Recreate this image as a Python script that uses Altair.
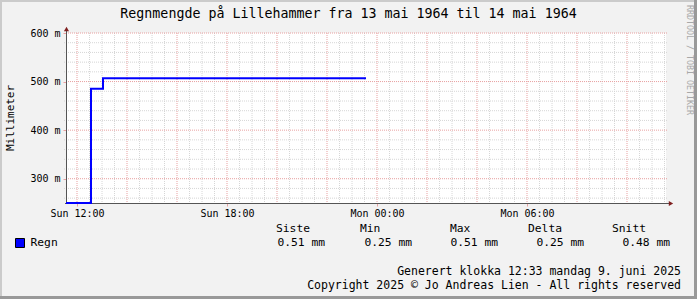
import altair as alt
import numpy as np
import pandas as pd

# ---------------- data ----------------
hours = [-0.44, 0.56, 1.04, 11.56]          # hours relative to Sun 12:00
regn = [250, 485, 507, 507]                 # thousandths of a millimetre ("m")

title_text = "Regnmengde på Lillehammer fra 13 mai 1964 til 14 mai 1964"
watermark = "RRDTOOL / TOBI OETIKER"
y_title = "Millimeter"
x_tick_hours = [0, 6, 12, 18]
x_tick_labels = ["Sun 12:00", "Sun 18:00", "Mon 00:00", "Mon 06:00"]
y_ticks = [300, 400, 500, 600]
series_name = "Regn"
legend_headers = ["Siste", "Min", "Max", "Delta", "Snitt"]
legend_values = ["0.51 mm", "0.25 mm", "0.51 mm", "0.25 mm", "0.48 mm"]
footer_lines = ["Generert klokka 12:33 mandag 9. juni 2025",
                "Copyright 2025 © Jo Andreas Lien - All rights reserved"]

# ---------------- layout ----------------
L, T, W, H = 66, 33, 600, 170
FULL_W, FULL_H = 697, 299
FONT = "DejaVu Sans Mono"
x_domain = [-0.44, 23.56]
y_domain = [250, 600]
header_left = [276, 360, 450, 528, 612]
value_right = [325, 412, 498, 584, 670]

xs = alt.Scale(domain=x_domain, nice=False, zero=False)
ys = alt.Scale(domain=y_domain, nice=False, zero=False)

one = alt.Data(values=[{"a": 1}])

minor_x = [h for h in np.arange(0, x_domain[1], 0.5) if h % 2 != 0]
major_x = list(range(0, 24, 2))
minor_y = [v for v in range(260, 600, 20) if v % 100 != 0]
major_y = y_ticks

MINOR_C = "#D6D6D6"
MAJOR_C = "#E8A0A0"

label_expr = " : ".join(
    f"datum.value == {h} ? '{lab}'" for h, lab in zip(x_tick_hours, x_tick_labels)) + " : ''"

x_axis = alt.Axis(
    values=x_tick_hours, labelExpr=label_expr, title=None, grid=False, domain=False,
    tickSize=3, tickColor=MAJOR_C, labelFont=FONT, labelFontSize=10,
    labelColor="#000000", labelPadding=2, labelFlush=False)
y_axis = alt.Axis(
    values=y_ticks, labelExpr="datum.value + ' m'", title=None, grid=False,
    domain=False, tickSize=3, tickColor=MAJOR_C, labelFont=FONT, labelFontSize=10,
    labelColor="#000000", labelPadding=3)

vminor = alt.Chart(pd.DataFrame({"h": minor_x})).mark_rule(
    color=MINOR_C, strokeDash=[1, 1], strokeWidth=1).encode(
    x=alt.X("h:Q", scale=xs, axis=x_axis), y=alt.value(0), y2=alt.value(H + 2))
vmajor = alt.Chart(pd.DataFrame({"h": major_x})).mark_rule(
    color=MAJOR_C, strokeDash=[1, 1], strokeWidth=1).encode(
    x=alt.X("h:Q", scale=xs, axis=x_axis), y=alt.value(0), y2=alt.value(H))
hminor = alt.Chart(pd.DataFrame({"v": minor_y})).mark_rule(
    color=MINOR_C, strokeDash=[1, 1], strokeWidth=1).encode(
    y=alt.Y("v:Q", scale=ys, axis=y_axis), x=alt.value(-2), x2=alt.value(W + 2))
hmajor = alt.Chart(pd.DataFrame({"v": major_y})).mark_rule(
    color=MAJOR_C, strokeDash=[1, 1], strokeWidth=1).encode(
    y=alt.Y("v:Q", scale=ys, axis=y_axis), x=alt.value(0), x2=alt.value(W + 2))

line = alt.Chart(pd.DataFrame({"h": hours, "v": regn})).mark_line(
    interpolate="step-after", color="#0000FF", strokeWidth=2, clip=False).encode(
    x=alt.X("h:Q", scale=xs, axis=x_axis),
    y=alt.Y("v:Q", scale=ys, axis=y_axis),
)

AXIS_C = "#555555"
x_axis_line = alt.Chart(one).mark_rule(color=AXIS_C, strokeWidth=1).encode(
    x=alt.value(-1), x2=alt.value(W + 4), y=alt.value(H + 0.5))
y_axis_line = alt.Chart(one).mark_rule(color=AXIS_C, strokeWidth=1).encode(
    x=alt.value(0.5), y=alt.value(-3), y2=alt.value(H + 1))
arrow_up = alt.Chart(one).mark_point(shape="triangle-up", filled=True, size=26,
                                     color="#7F1F1F", opacity=1).encode(
    x=alt.value(0.5), y=alt.value(-4))
arrow_right = alt.Chart(one).mark_point(shape="triangle-right", filled=True, size=26,
                                        color="#7F1F1F", opacity=1).encode(
    x=alt.value(W + 5), y=alt.value(H + 0.5))


def txt(text, x, y, size, align="left", angle=0, color="#000000"):
    props = dict(font=FONT, fontSize=size, align=align, baseline="middle", color=color)
    if angle:
        props["angle"] = angle
    return alt.Chart(one).mark_text(**props).encode(
        text=alt.value(text), x=alt.value(x - L), y=alt.value(y - T))


texts = [
    txt(title_text, 348.5, 14, 13.3, align="center"),
    txt(watermark, 688.5, 5, 8.3, align="left", angle=90, color="#A8A8A8"),
    txt(y_title, 11, 118, 11, align="center", angle=270),
    txt(series_name, 30.5, 243, 11.3),
    txt(footer_lines[0], 681, 272, 11.5, align="right"),
    txt(footer_lines[1], 681, 285.5, 11.5, align="right"),
]

leg = pd.DataFrame({"head": legend_headers, "val": legend_values,
                    "hx": [x - L for x in header_left], "vx": [x - L for x in value_right]})
heads = alt.Chart(leg).mark_text(font=FONT, fontSize=11.3, align="left", baseline="middle",
                                 color="#000000").encode(
    text="head:N", x=alt.X("hx:Q", scale=None), y=alt.value(229 - T))
vals = alt.Chart(leg).mark_text(font=FONT, fontSize=11.3, align="right", baseline="middle",
                                color="#000000").encode(
    text="val:N", x=alt.X("vx:Q", scale=None), y=alt.value(243 - T))

swatch = alt.Chart(one).mark_rect(fill="#0000FF", stroke="#000000", strokeWidth=1).encode(
    x=alt.value(15.5 - L), x2=alt.value(24.5 - L), y=alt.value(238.5 - T), y2=alt.value(247.5 - T))


def frame(x0, x1, y0, y1, c):
    return alt.Chart(one).mark_rect(fill=c, strokeWidth=0).encode(
        x=alt.value(x0 - L), x2=alt.value(x1 - L), y=alt.value(y0 - T), y2=alt.value(y1 - T))


frames = [
    frame(0, FULL_W, 0, 2, "#CBCBCB"),
    frame(0, 2, 0, FULL_H, "#CBCBCB"),
    frame(694, FULL_W, 0, FULL_H, "#999999"),
    frame(0, FULL_W, 296, FULL_H, "#999999"),
]

chart = alt.layer(
    vminor, hminor, vmajor, hmajor, x_axis_line, y_axis_line, line,
    arrow_up, arrow_right, heads, vals, swatch, *texts, *frames,
).properties(
    width=W, height=H,
    autosize=alt.AutoSizeParams(type="none"),
    padding={"left": L, "top": T, "right": FULL_W - L - W, "bottom": FULL_H - T - H},
    background="#F2F2F2",
).configure_view(fill="#FFFFFF", stroke=None)

chart.save("out.html", embed_options={"renderer": "svg", "actions": False})
